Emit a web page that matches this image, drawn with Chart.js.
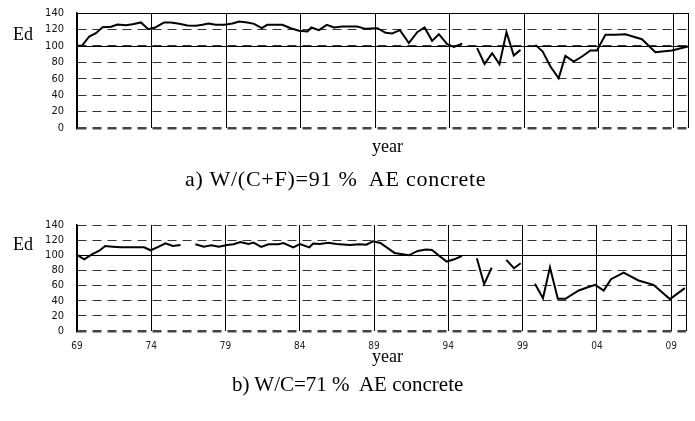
<!DOCTYPE html>
<html lang="en">
  <head>
    <meta charset="UTF-8" />
    <title>Ed by year</title>
    <style>
      body {
        margin: 0;
        background: #fff;
        width: 695px;
        height: 421px;
        position: relative;
        overflow: hidden;
      }
      canvas {
        position: absolute;
        left: 0;
      }
      .txt {
        position: absolute;
        font-family: "Liberation Serif", "Times New Roman", serif;
        color: #000;
        white-space: pre;
        line-height: 1;
      }
      .ed { font-size: 18px; left: 13px; }
      .year { font-size: 18px; left: 372px; }
      .cap { font-size: 21px; }
    </style>
  </head>
  <body>
    <canvas id="chartA" width="695" height="140" style="top: 0px"></canvas>
    <canvas id="chartB" width="695" height="145" style="top: 212px"></canvas>

    <div class="txt ed" style="top: 25px">Ed</div>
    <div class="txt year" style="top: 137px">year</div>
    <div class="txt cap" style="top: 168px; left: 185px; font-size: 22px; letter-spacing: 0.75px">a) W/(C+F)=91 %  AE concrete</div>

    <div class="txt ed" style="top: 235px">Ed</div>
    <div class="txt year" style="top: 347px">year</div>
    <div class="txt cap" style="top: 374px; left: 232px">b) W/C=71 %  AE concrete</div>

    <script src="https://cdn.jsdelivr.net/npm/chart.js"></script>
    <script>
      // x grid / tick positions (years) and their labels
      const gridYears = [1969, 1974, 1979, 1984, 1989, 1994, 1999, 2004, 2009, 2010];
      const xTickLabels = ["69", "74", "79", "84", "89", "94", "99", "04", "09", ""];

      // a) W/(C+F)=91 % AE concrete  (null = no measurement)
      const topYears = [
        1969.0, 1969.33, 1969.82, 1970.27, 1970.72, 1971.28, 1971.72, 1972.28, 1972.73, 1973.29,
        1973.78, 1974.25, 1974.85, 1975.3, 1975.86, 1976.41, 1976.97, 1977.42, 1977.82, 1978.3,
        1978.87, 1979.43, 1979.88, 1980.43, 1980.88, 1981.4, 1981.77, 1982.78, 1983.34, 1983.9,
        1984.46, 1984.72, 1985.24, 1985.76, 1986.25, 1986.8, 1987.8, 1988.37, 1989.15, 1989.71,
        1990.15, 1990.67, 1991.27, 1991.83, 1992.32, 1992.83, 1993.28, 1993.84, 1994.29, 1994.85,
        1995.35,
        1995.85, 1996.35, 1996.86, 1997.35, 1997.82, 1998.31, 1998.76,
        1999.25,
        1999.76, 2000.25, 2000.77, 2001.32, 2001.77, 2002.33, 2002.89, 2003.45, 2003.89, 2004.46,
        2005.13, 2005.8, 2006.91, 2007.81, 2008.92, 2010.0
      ];
      const topEd = [
        100, 100, 111.4, 115.4, 122.8, 123.2, 126, 125.2, 126.4, 128.5,
        120.3, 122.4, 128.5, 128.5, 126.8, 124.8, 124.4, 125.6, 127.2, 125.6,
        125.6, 127.2, 129.7, 128.5, 126.8, 121.5, 125.6, 125.6, 121.5, 118.3,
        117.5, 122.4, 119.1, 125.6, 122.4, 123.6, 123.6, 120.7, 121.5, 115.9,
        115, 119.1, 103.3, 116.7, 122.4, 106.1, 114.2, 102, 98.8, 102.8,
        null,
        97.2, 78, 91, 77.6, 116.7, 88.2, 95.1,
        null,
        101.2, 93, 74.8, 60.6, 87.8, 80.9, 87, 94.3, 94.3, 113.4,
        113.4, 114.2, 108.1, 92.3, 94.3, 99.2
      ];

      // b) W/C=71 % AE concrete
      const bottomYears = [
        1969.0, 1969.49, 1970.0, 1970.5, 1970.9, 1971.39, 1971.95, 1972.95, 1973.51, 1973.96,
        1974.47, 1974.96, 1975.45, 1975.97,
        1976.45,
        1976.97, 1977.53, 1978.05, 1978.54, 1979.1, 1979.54, 1979.99, 1980.55, 1980.88, 1981.4,
        1981.89, 1982.56, 1982.9, 1983.56, 1984.01, 1984.64, 1984.9, 1985.35, 1985.91, 1986.47,
        1987.36, 1988.03, 1988.48, 1988.93, 1989.42, 1990.38, 1991.34, 1991.94, 1992.5, 1992.9,
        1993.4, 1993.89, 1994.4, 1994.91,
        1995.4,
        1995.92, 1996.41, 1996.92,
        1997.4,
        1997.9, 1998.42, 1998.87,
        1999.35,
        1999.83, 2000.37, 2000.84, 2001.37, 2001.88, 2002.78, 2003.34, 2003.89, 2004.46, 2004.95,
        2005.8, 2006.8, 2007.81, 2008.92, 2009.92
      ];
      const bottomEd = [
        100.4, 94.7, 101.3, 106.1, 112.3, 111.4, 110.5, 110.5, 110.5, 106.6,
        111, 115.8, 112.3, 113.6,
        null,
        114.5, 111.4, 113.2, 111.4, 113.6, 114.5, 117.5, 114.9, 116.7, 111,
        114.5, 114.5, 116.2, 110.5, 114.9, 110.5, 115.4, 114.9, 116.7, 114.9,
        113.6, 114.5, 114, 118.4, 116.2, 103.1, 100, 105.7, 107.5, 107,
        99.1, 91.7, 94.7, 99.1,
        null,
        96, 61.8, 83.8,
        null,
        93.9, 82.9, 89.5,
        null,
        62.3, 43.4, 84.2, 42.5, 42.5, 53.5, 57.5, 61, 53.5, 68.4,
        77.2, 66.7, 61, 42.1, 56.6
      ];

      const tickFont = {
        family: "'Liberation Sans Narrow', 'DejaVu Sans Condensed', 'Arial Narrow', sans-serif",
        size: 11,
      };

      // solid horizontal reference lines (100 and top border) drawn under the data
      const solidLinesPlugin = {
        id: "solidLines",
        beforeDatasetsDraw(chart, args, opts) {
          const { ctx, chartArea } = chart;
          const y = chart.scales.y;
          ctx.save();
          ctx.strokeStyle = "#000";
          ctx.lineWidth = 1;
          (opts.values || []).forEach((v) => {
            const py = Math.round(y.getPixelForValue(v)) + 0.5;
            ctx.beginPath();
            ctx.moveTo(chartArea.left, py);
            ctx.lineTo(chartArea.right, py);
            ctx.stroke();
          });
          ctx.restore();
        },
      };

      function makeChart(id, years, values, opts) {
        return new Chart(document.getElementById(id), {
          type: "line",
          data: {
            datasets: [
              {
                data: years.map((x, i) => ({ x: x, y: values[i] })),
                borderColor: "#000",
                borderWidth: 2,
                pointRadius: 0,
                tension: 0,
                spanGaps: false,
              },
            ],
          },
          plugins: [solidLinesPlugin],
          options: {
            responsive: false,
            animation: false,
            layout: { padding: { top: 13, right: 7, left: 0, bottom: 0 } },
            plugins: {
              legend: { display: false },
              tooltip: { enabled: false },
              solidLines: { values: opts.solid },
            },
            scales: {
              x: {
                type: "linear",
                min: 1969,
                max: 2010,
                afterBuildTicks: (scale) => {
                  scale.ticks = gridYears.map((v) => ({ value: v }));
                },
                afterFit: (scale) => {
                  scale.height = opts.xHeight;
                },
                ticks: {
                  display: opts.showXTicks,
                  autoSkip: false,
                  maxRotation: 0,
                  padding: 9,
                  color: "#222",
                  font: { family: tickFont.family, size: 10 },
                  callback: (v, i) => xTickLabels[i],
                },
                grid: { color: "#000", lineWidth: 1, drawTicks: false },
                border: { display: false },
              },
              y: {
                min: 0,
                max: 140,
                afterFit: (scale) => {
                  scale.width = 77;
                },
                ticks: {
                  stepSize: 20,
                  autoSkip: false,
                  padding: 0,
                  color: "#111",
                  font: tickFont,
                },
                grid: {
                  drawTicks: true,
                  tickLength: 13,
                  tickColor: "rgba(0,0,0,0)",
                  color: (c) => (c.index === 0 ? "#444" : "#333"),
                  lineWidth: (c) => (c.index === 0 ? 2.5 : 1),
                },
                border: { display: true, color: "#000", width: 1.5, dash: [9, 6] },
              },
            },
          },
        });
      }

      makeChart("chartA", topYears, topEd, { solid: [100, 140], xHeight: 12, showXTicks: false });
      makeChart("chartB", bottomYears, bottomEd, { solid: [100], xHeight: 26, showXTicks: true });
    </script>
  </body>
</html>
